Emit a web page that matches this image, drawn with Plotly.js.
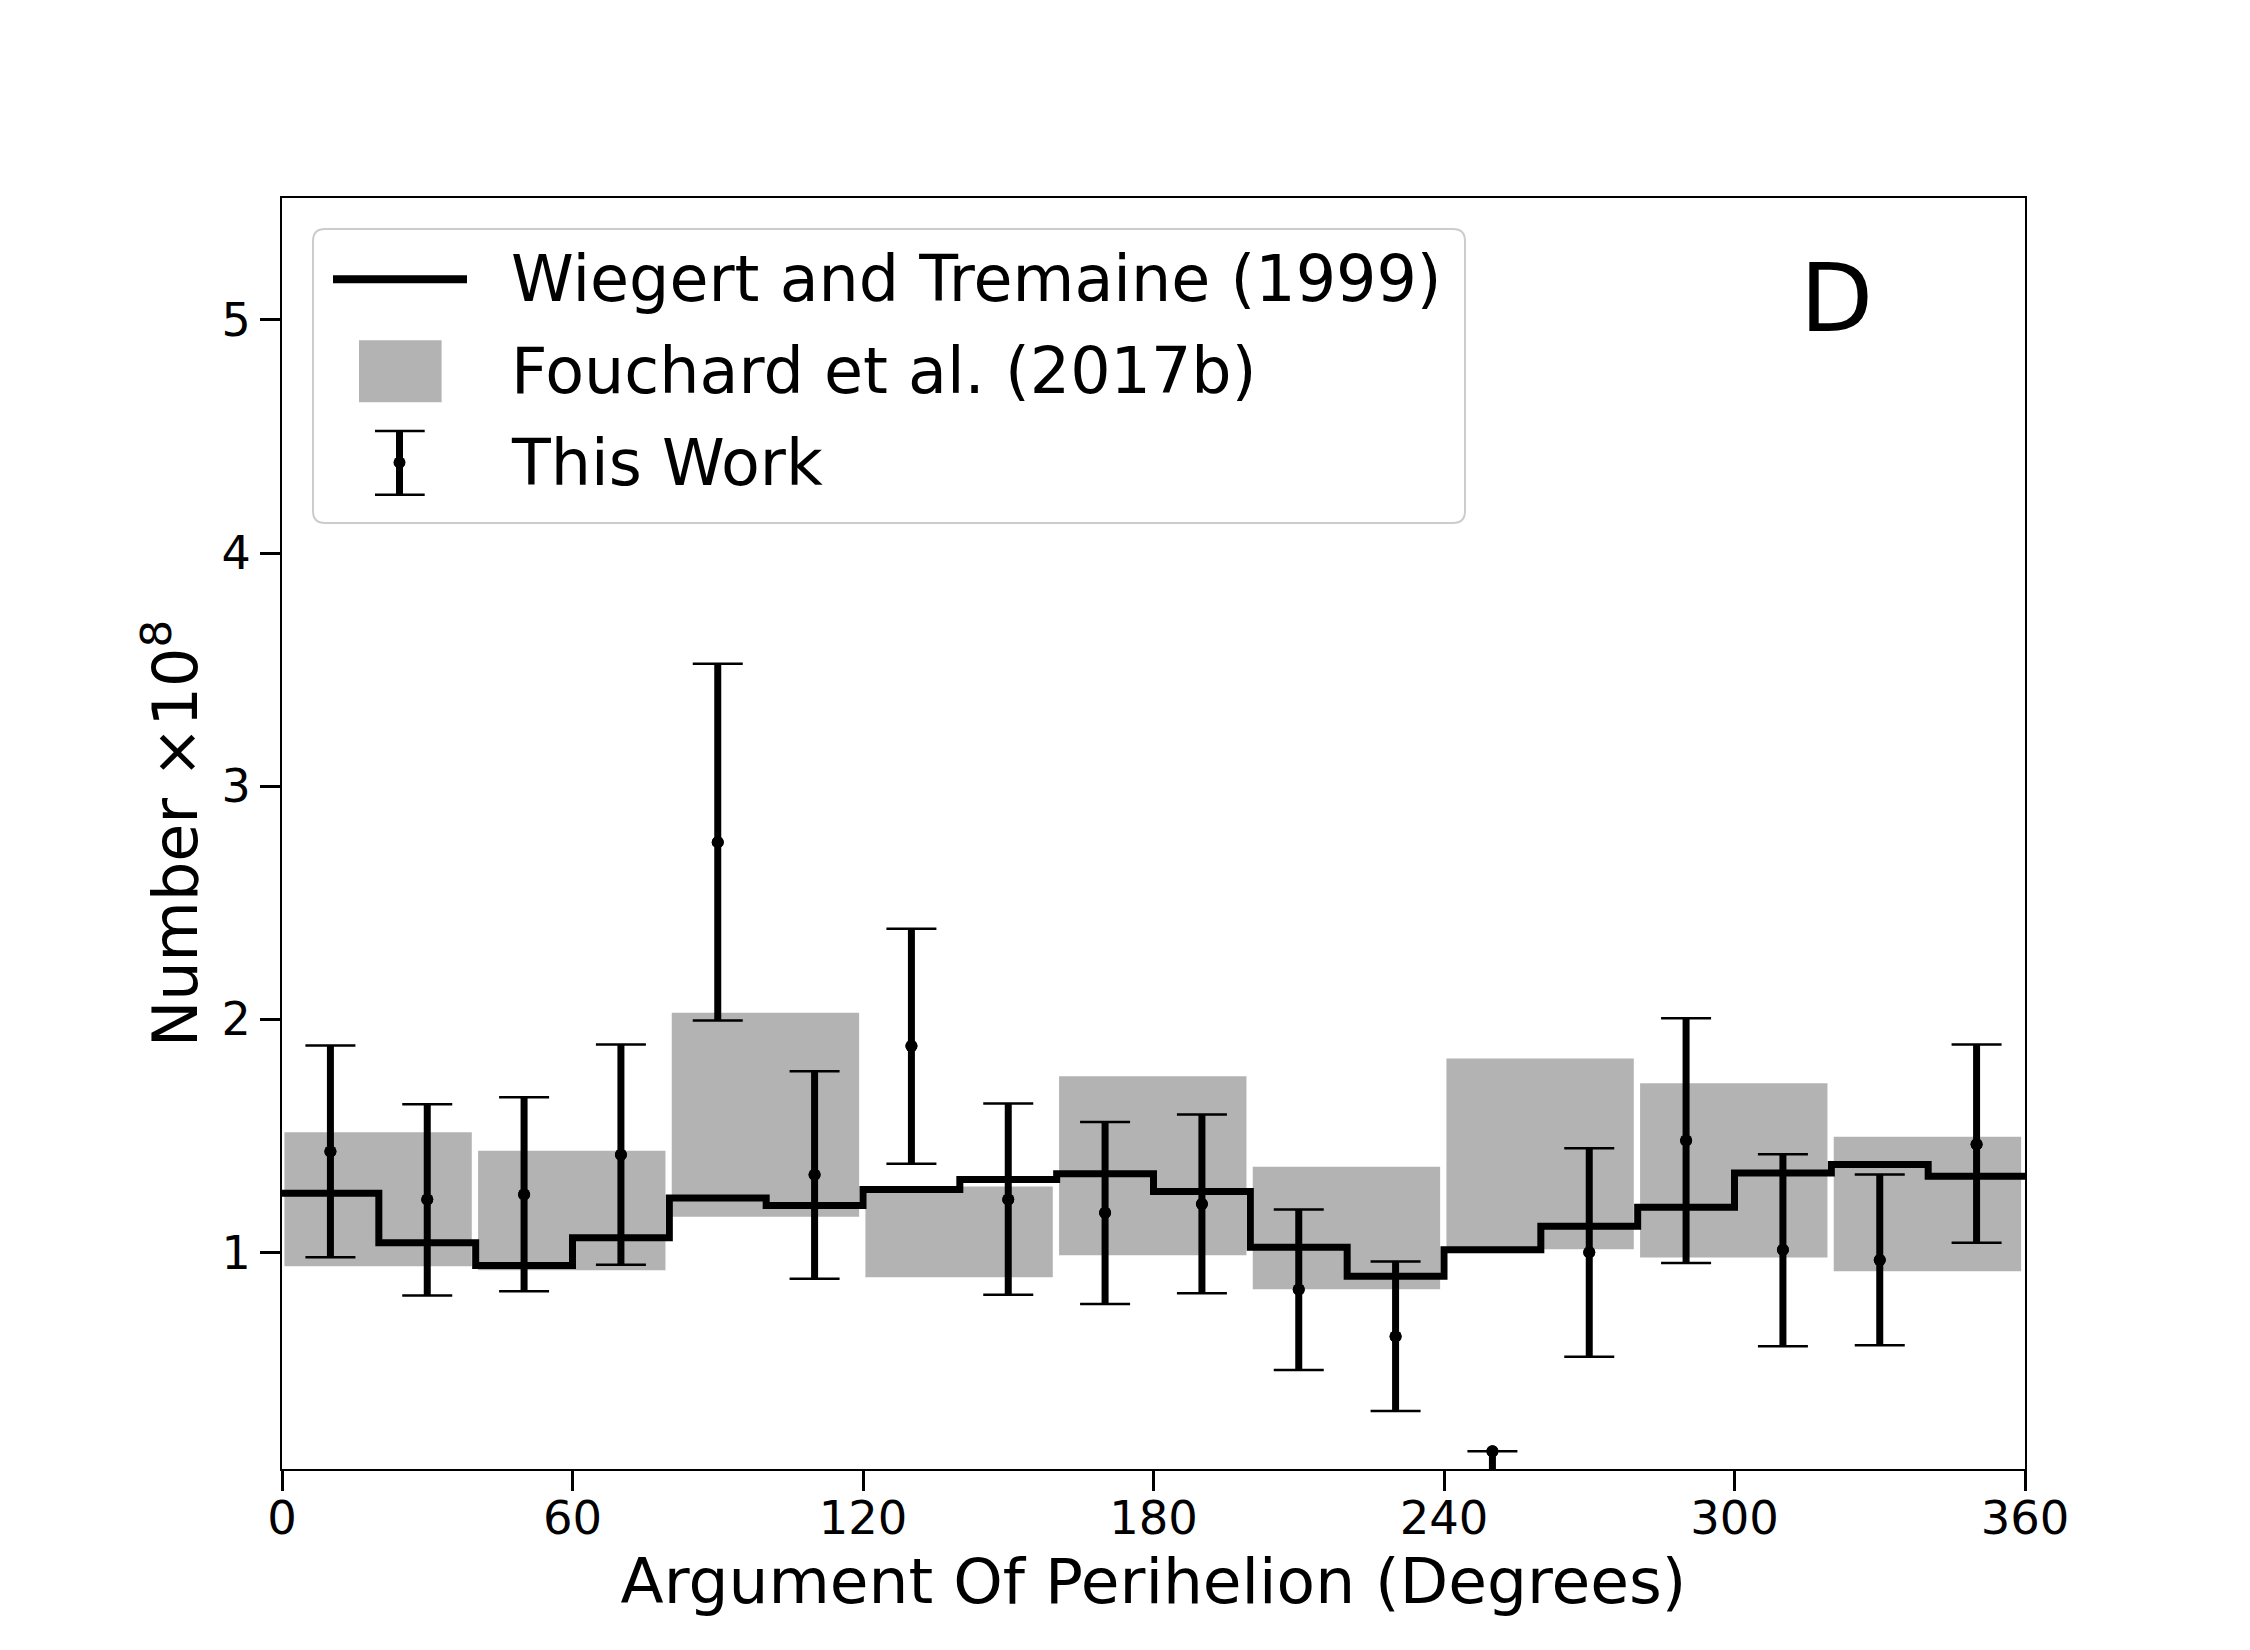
<!DOCTYPE html>
<html>
<head>
<meta charset="utf-8">
<script src="https://cdn.plot.ly/plotly-3.0.1.min.js"></script>
<style>html,body{margin:0;padding:0;background:#ffffff;}</style>
</head>
<body>
<div id="chart" style="width:2250px;height:1650px;"></div>
<script>
// Wiegert and Tremaine (1999): counts in 20-degree bins (left edges)
const wtBinStart = [0, 20, 40, 60, 80, 100, 120, 140, 160, 180, 200, 220, 240, 260, 280, 300, 320, 340];
const wtCounts = [1.254, 1.041, 0.944, 1.063, 1.233, 1.201, 1.270, 1.313, 1.338, 1.261, 1.022, 0.898, 1.012, 1.112, 1.194, 1.341, 1.377, 1.327];

// Fouchard et al. (2017b): range in 40-degree bins (centres)
const fouBinCenter = [20, 60, 100, 140, 180, 220, 260, 300, 340];
const fouLow  = [0.941, 0.924, 1.153, 0.894, 0.988, 0.842, 1.014, 0.978, 0.919];
const fouHigh = [1.516, 1.436, 2.028, 1.283, 1.756, 1.368, 1.832, 1.726, 1.496];

// This Work: value with lower/upper bounds at 20-degree bin centres
const twAngle = [10, 30, 50, 70, 90, 110, 130, 150, 170, 190, 210, 230, 250, 270, 290, 310, 330, 350];
const twValue = [1.433, 1.227, 1.248, 1.419, 2.760, 1.333, 1.885, 1.227, 1.170, 1.208, 0.841, 0.639, 0.147, 1.001, 1.480, 1.011, 0.968, 1.464];
const twUpper = [1.888, 1.636, 1.666, 1.892, 3.525, 1.777, 2.388, 1.639, 1.560, 1.592, 1.184, 0.961, 0.147, 1.447, 2.005, 1.421, 1.334, 1.892];
const twLower = [0.979, 0.815, 0.834, 0.947, 1.995, 0.887, 1.380, 0.818, 0.779, 0.825, 0.496, 0.320, 0.000, 0.553, 0.955, 0.598, 0.602, 1.041];

const xTicks = [0, 60, 120, 180, 240, 300, 360];
const yTicks = [1, 2, 3, 4, 5];

const seriesNames = ['Wiegert and Tremaine (1999)', 'Fouchard et al. (2017b)', 'This Work'];

const FONT = 'DejaVu Sans, Liberation Sans, sans-serif';
const GREY = '#b3b3b3';

// plot-area geometry in pixels, used to place the legend box decorations
const L = 282, T = 198, W = 1743, H = 1271;
const px = X => (X - L) / W;
const py = Y => (T + H - Y) / H;

const errPlus = twUpper.map((u, i) => u - twValue[i]);
const errMinus = twValue.map((v, i) => v - twLower[i]);

const traces = [
  {
    type: 'bar',
    name: seriesNames[1],
    x: fouBinCenter,
    y: fouHigh.map((h, i) => h - fouLow[i]),
    base: fouLow,
    width: 38.7,
    offset: -19.5,
    marker: {color: GREY, line: {width: 0}},
    showlegend: false,
    hoverinfo: 'skip'
  },
  {
    type: 'scatter',
    mode: 'lines',
    name: seriesNames[0],
    x: wtBinStart.concat([360]),
    y: wtCounts.concat([wtCounts[wtCounts.length - 1]]),
    line: {shape: 'hv', color: '#000000', width: 7},
    showlegend: false
  },
  {
    // thin caps
    type: 'scatter',
    mode: 'markers',
    name: seriesNames[2],
    x: twAngle,
    y: twValue,
    marker: {color: '#000000', size: 12},
    error_y: {type: 'data', symmetric: false, array: errPlus, arrayminus: errMinus,
              color: '#000000', thickness: 2.5, width: 25},
    showlegend: false
  },
  {
    // heavy vertical bars
    type: 'scatter',
    mode: 'markers',
    name: seriesNames[2],
    x: twAngle,
    y: twValue,
    marker: {color: '#000000', size: 12},
    error_y: {type: 'data', symmetric: false, array: errPlus, arrayminus: errMinus,
              color: '#000000', thickness: 7, width: 0},
    showlegend: false
  }
];

// rounded legend frame
function roundRect(x1, y1, x2, y2, r) {
  const P = (X, Y) => px(X).toFixed(6) + ',' + py(Y).toFixed(6);
  return 'M' + P(x1 + r, y1) + ' L' + P(x2 - r, y1) + ' Q' + P(x2, y1) + ' ' + P(x2, y1 + r) +
         ' L' + P(x2, y2 - r) + ' Q' + P(x2, y2) + ' ' + P(x2 - r, y2) +
         ' L' + P(x1 + r, y2) + ' Q' + P(x1, y2) + ' ' + P(x1, y2 - r) +
         ' L' + P(x1, y1 + r) + ' Q' + P(x1, y1) + ' ' + P(x1 + r, y1) + ' Z';
}

const rowY = [279.2, 370.8, 462.5];
const shapes = [
  {type: 'path', xref: 'paper', yref: 'paper', layer: 'above',
   path: roundRect(313, 229, 1465, 523, 12),
   fillcolor: 'rgba(255,255,255,0.8)', line: {color: '#cccccc', width: 2}},
  // line handle
  {type: 'line', xref: 'paper', yref: 'paper', layer: 'above',
   x0: px(333), x1: px(467), y0: py(rowY[0]), y1: py(rowY[0]),
   line: {color: '#000000', width: 8}},
  // grey patch handle
  {type: 'rect', xref: 'paper', yref: 'paper', layer: 'above',
   x0: px(359), x1: px(441.6), y0: py(340.3), y1: py(402.3),
   fillcolor: GREY, line: {width: 0}},
  // error-bar handle
  {type: 'line', xref: 'paper', yref: 'paper', layer: 'above',
   x0: px(399.5), x1: px(399.5), y0: py(431), y1: py(494.7),
   line: {color: '#000000', width: 7}},
  {type: 'line', xref: 'paper', yref: 'paper', layer: 'above',
   x0: px(375), x1: px(424.7), y0: py(431), y1: py(431),
   line: {color: '#000000', width: 2.5}},
  {type: 'line', xref: 'paper', yref: 'paper', layer: 'above',
   x0: px(375), x1: px(424.7), y0: py(494.7), y1: py(494.7),
   line: {color: '#000000', width: 2.5}},
  {type: 'circle', xref: 'paper', yref: 'paper', layer: 'above',
   x0: px(393.5), x1: px(405.5), y0: py(456.5), y1: py(468.5),
   fillcolor: '#000000', line: {width: 0}}
];

const annotations = seriesNames.map((name, i) => ({
  xref: 'paper', yref: 'paper', x: px(509), y: py(rowY[i]),
  xanchor: 'left', yanchor: 'middle', showarrow: false,
  text: name, font: {family: FONT, size: 63.5, color: '#000000'}
}));
annotations.push({
  xref: 'paper', yref: 'paper', x: px(1836), y: py(298),
  xanchor: 'center', yanchor: 'middle', showarrow: false,
  text: 'D', font: {family: FONT, size: 95, color: '#000000'}
});

const layout = {
  width: 2250,
  height: 1650,
  margin: {l: L, r: 2250 - L - W, t: T, b: 1650 - T - H, pad: 0},
  paper_bgcolor: '#ffffff',
  plot_bgcolor: '#ffffff',
  font: {family: FONT, color: '#000000'},
  showlegend: false,
  xaxis: {
    range: [0, 360],
    tickvals: xTicks,
    ticktext: xTicks.map(String),
    ticks: 'outside', ticklen: 20, tickwidth: 3, tickcolor: '#000000',
    ticklabelstandoff: -13,
    showline: true, linecolor: '#000000', linewidth: 2, mirror: true,
    showgrid: false, zeroline: false,
    tickfont: {family: FONT, size: 46.5, color: '#000000'},
    title: {text: 'Argument Of Perihelion (Degrees)', font: {family: FONT, size: 63, color: '#000000'}, standoff: 4}
  },
  yaxis: {
    range: [0.071, 5.523],
    tickvals: yTicks,
    ticktext: yTicks.map(String),
    ticks: 'outside', ticklen: 20, tickwidth: 3, tickcolor: '#000000',
    showline: true, linecolor: '#000000', linewidth: 2, mirror: true,
    showgrid: false, zeroline: false,
    tickfont: {family: FONT, size: 46, color: '#000000'},
    title: {text: 'Number ×10<sup>8</sup>', font: {family: FONT, size: 62, color: '#000000'}, standoff: 4}
  },
  shapes: shapes,
  annotations: annotations
};

Plotly.newPlot('chart', traces, layout, {displayModeBar: false, staticPlot: true});
</script>
</body>
</html>
